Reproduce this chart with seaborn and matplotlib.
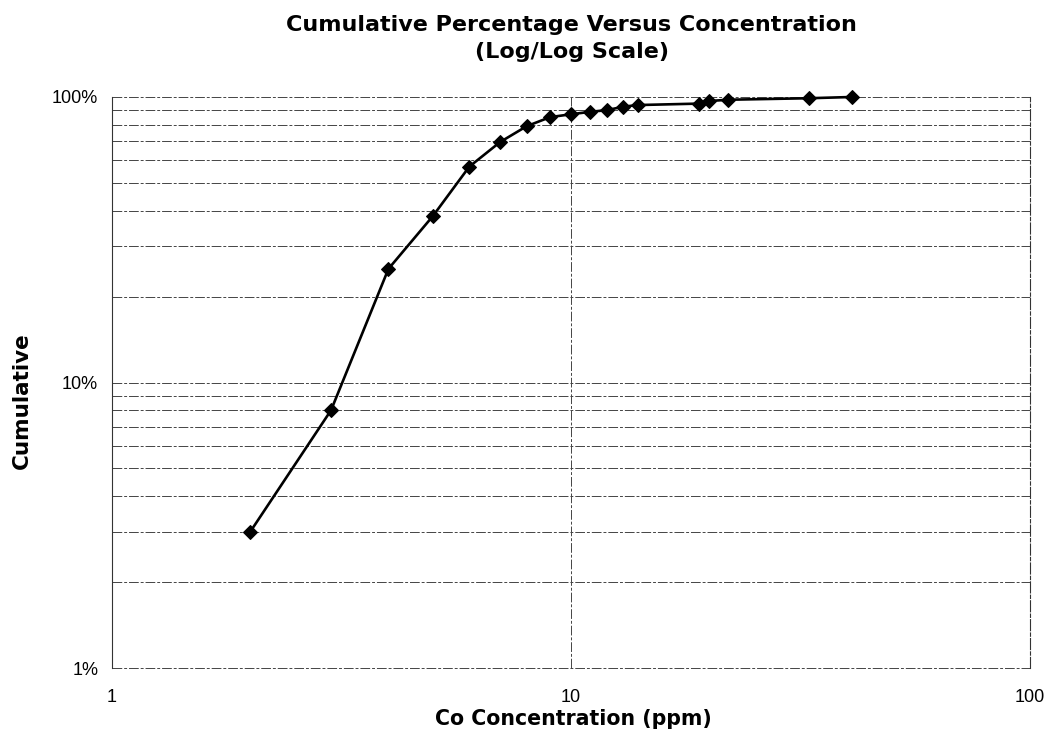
import matplotlib
matplotlib.use("Agg")
import matplotlib.pyplot as plt
import matplotlib.ticker as mticker
import seaborn as sns
import pandas as pd

# Co concentration (ppm) and cumulative percentage of samples
concentration_ppm = [2, 3, 4, 5, 6, 7, 8, 9, 10, 11, 12, 13, 14, 19, 20, 22, 33, 41]
cumulative_pct = [3.0, 8.0, 25.0, 38.3, 57.0, 69.5, 79.0, 85.0, 87.0, 88.7, 90.0,
                  92.5, 93.7, 94.8, 96.8, 97.8, 99.0, 100.0]

x_ticks = [1, 10, 100]
y_ticks = [1, 10, 100]
y_tick_labels = ["1%", "10%", "100%"]

df = pd.DataFrame({"conc": concentration_ppm, "cum": cumulative_pct})

sns.set_style("white")
plt.rcParams["font.family"] = ["Liberation Sans", "DejaVu Sans"]
plt.rcParams.update({"text.color": "black", "axes.labelcolor": "black",
                     "xtick.color": "black", "ytick.color": "black"})
bold_font = ["DejaVu Sans"]

fig = plt.figure(figsize=(10.47, 7.5), dpi=100)
ax = fig.add_axes([0.107, 0.1093, 0.877, 0.7614])

ax.set_xscale("log")
ax.set_yscale("log")
ax.set_xlim(1, 100)
ax.set_ylim(1, 100)

# horizontal grid at every decade and sub-decade, vertical grid at decades
grid_kw = dict(color="#444444", linewidth=0.7, linestyle=(0, (10, 2, 3, 2)),
               zorder=0, clip_on=False)
for decade in [1, 10]:
    for m in range(1, 10):
        ax.axhline(decade * m, **grid_kw)
ax.axhline(100, **grid_kw)
ax.axvline(10, **grid_kw)

sns.lineplot(data=df, x="conc", y="cum", ax=ax, color="black", linewidth=1.9,
             marker="D", markersize=6.8, markeredgecolor="black", zorder=3,
             clip_on=False)

ax.xaxis.set_major_locator(mticker.FixedLocator(x_ticks))
ax.xaxis.set_major_formatter(mticker.FixedFormatter([str(t) for t in x_ticks]))
ax.xaxis.set_minor_locator(mticker.NullLocator())
ax.yaxis.set_major_locator(mticker.FixedLocator(y_ticks))
ax.yaxis.set_major_formatter(mticker.FixedFormatter(y_tick_labels))
ax.yaxis.set_minor_locator(mticker.NullLocator())

ax.tick_params(axis="y", length=4, width=0.8, color="#333333", labelsize=13, pad=6,
               labelfontfamily="Liberation Sans")
ax.tick_params(axis="x", length=0, labelsize=13, pad=15,
               labelfontfamily="Liberation Sans")

for side in ["left", "right"]:
    ax.spines[side].set_visible(True)
    ax.spines[side].set_color("#333333")
    ax.spines[side].set_linewidth(0.8)
ax.spines["right"].set_linestyle((0, (10, 2, 3, 2)))
for side in ["top", "bottom"]:
    ax.spines[side].set_visible(False)

ax.set_xlabel("Co Concentration (ppm)", fontsize=14.8, fontweight="bold",
              family=bold_font, va="baseline")
ax.xaxis.set_label_coords(0.502, -0.0998)
ax.set_ylabel("Cumulative", fontsize=15.5, fontweight="bold",
              family=bold_font, va="center")
ax.yaxis.set_label_coords(-0.098, 0.469)

fig.text(0.546, 0.959, "Cumulative Percentage Versus Concentration", ha="center",
         va="baseline", fontsize=16, fontweight="bold", family=bold_font)
fig.text(0.546, 0.923, "(Log/Log Scale)", ha="center", va="baseline",
         fontsize=16, fontweight="bold", family=bold_font)

fig.savefig("out.png", dpi=100, facecolor="white")
